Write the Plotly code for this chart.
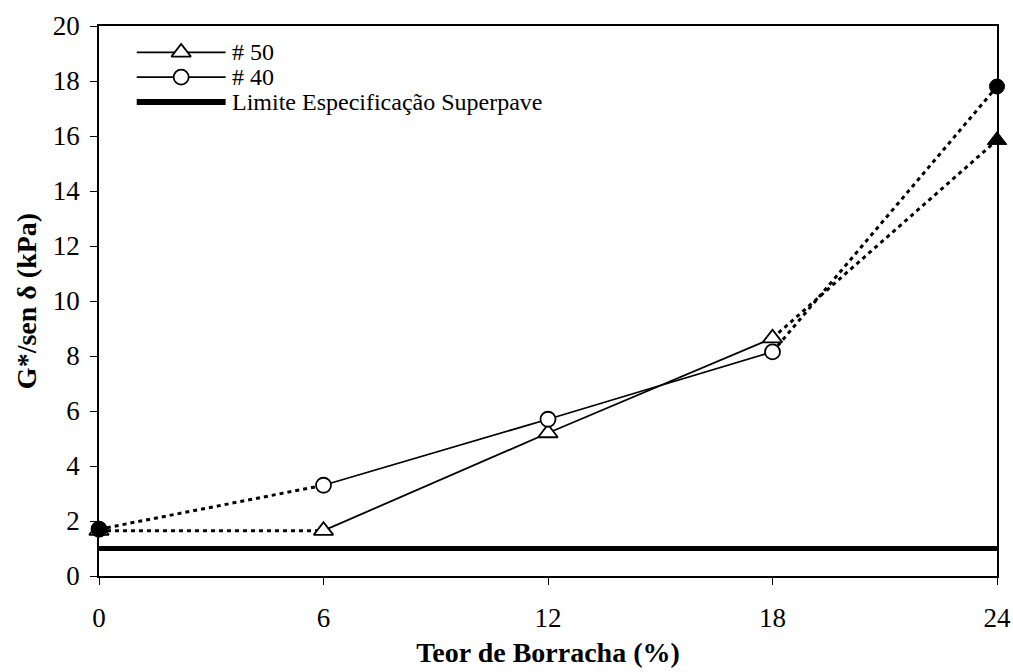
import plotly.graph_objects as go

# Rubber content (%) and G*/sin(delta) (kPa) for the two gradations
teor = [0, 6, 12, 18, 24]
g_50 = [1.65, 1.65, 5.2, 8.65, 15.85]
g_40 = [1.7, 3.3, 5.7, 8.15, 17.8]
limite = 1.0

series_names = ["# 50", "# 40", "Limite Especificação Superpave"]

FONT = "Liberation Serif, Times New Roman, serif"
BLACK = "black"

fig = go.Figure()


def add_series(ys, symbol, size, open_first):
    # dotted extrapolated stretches at both ends
    for a, b in [(0, 2), (3, 5)]:
        fig.add_trace(go.Scatter(
            x=teor[a:b], y=ys[a:b], mode="lines", cliponaxis=False,
            line=dict(color=BLACK, width=3, dash="4px,4px"),
            showlegend=False, hoverinfo="skip"))
    # measured stretch, open markers
    fig.add_trace(go.Scatter(
        x=teor[1:4], y=ys[1:4], mode="lines+markers", showlegend=False,
        cliponaxis=False, line=dict(color=BLACK, width=1.8),
        marker=dict(symbol=symbol, size=size, color="white",
                    line=dict(width=1.8, color=BLACK))))
    # end points
    fig.add_trace(go.Scatter(
        x=[teor[0]], y=[ys[0]], mode="markers", showlegend=False,
        cliponaxis=False,
        marker=dict(symbol=symbol, size=size,
                    color="white" if open_first else BLACK,
                    line=dict(width=1.8, color=BLACK))))
    fig.add_trace(go.Scatter(
        x=[teor[-1]], y=[ys[-1]], mode="markers", showlegend=False,
        cliponaxis=False,
        marker=dict(symbol=symbol, size=size, color=BLACK,
                    line=dict(width=1, color=BLACK))))


add_series(g_50, "triangle-up", 17, True)
add_series(g_40, "circle", 15, False)

fig.add_trace(go.Scatter(
    x=[teor[0], teor[-1]], y=[limite, limite], mode="lines",
    cliponaxis=False, showlegend=False, line=dict(color=BLACK, width=5)))

# Key drawn in plot-area fractions on an overlay axis pair
key_x0, key_x1, key_xm, key_tx = 0.042, 0.141, 0.0915, 0.146
key_rows = [0.952, 0.907, 0.862]
key_styles = [
    dict(width=1.8, symbol="triangle-up", size=17),
    dict(width=1.8, symbol="circle", size=15),
    dict(width=6, symbol=None, size=0),
]
for name, yk, st in zip(series_names, key_rows, key_styles):
    fig.add_trace(go.Scatter(
        x=[key_x0, key_x1], y=[yk, yk], xaxis="x2", yaxis="y2",
        mode="lines", showlegend=False, hoverinfo="skip",
        line=dict(color=BLACK, width=st["width"])))
    if st["symbol"]:
        fig.add_trace(go.Scatter(
            x=[key_xm], y=[yk], xaxis="x2", yaxis="y2", mode="markers",
            showlegend=False, hoverinfo="skip",
            marker=dict(symbol=st["symbol"], size=st["size"], color="white",
                        line=dict(width=1.8, color=BLACK))))
    fig.add_annotation(
        x=key_tx, y=yk, xref="x2", yref="y2", text=name, showarrow=False,
        xanchor="left", yanchor="middle", font=dict(family=FONT, size=24))

fig.update_layout(
    width=1013, height=672,
    margin=dict(l=99, r=16, t=26, b=96),
    plot_bgcolor="white", paper_bgcolor="white",
    font=dict(family=FONT, size=27, color=BLACK),
    showlegend=False,
    xaxis=dict(
        range=[0, 24], tickvals=teor, ticks="outside", ticklen=7,
        tickcolor=BLACK, showline=True, linecolor=BLACK, linewidth=1.5,
        mirror=True, showgrid=False, zeroline=False, automargin=False,
        tickfont=dict(family=FONT, size=27), ticklabelstandoff=10,
        title=dict(text="<b>Teor de Borracha (%)</b>",
                   font=dict(family=FONT, size=28), standoff=10)),
    yaxis=dict(
        range=[0, 20], dtick=2, ticks="outside", ticklen=7,
        tickcolor=BLACK, showline=True, linecolor=BLACK, linewidth=1.5,
        mirror=True, showgrid=False, zeroline=False, automargin=False,
        tickfont=dict(family=FONT, size=27), ticklabelstandoff=5,
        title=dict(text="<b>G*/sen δ (kPa)</b>",
                   font=dict(family=FONT, size=28), standoff=8)),
    xaxis2=dict(overlaying="x", range=[0, 1], visible=False),
    yaxis2=dict(overlaying="y", range=[0, 1], visible=False),
)

fig.write_html("out.html")
